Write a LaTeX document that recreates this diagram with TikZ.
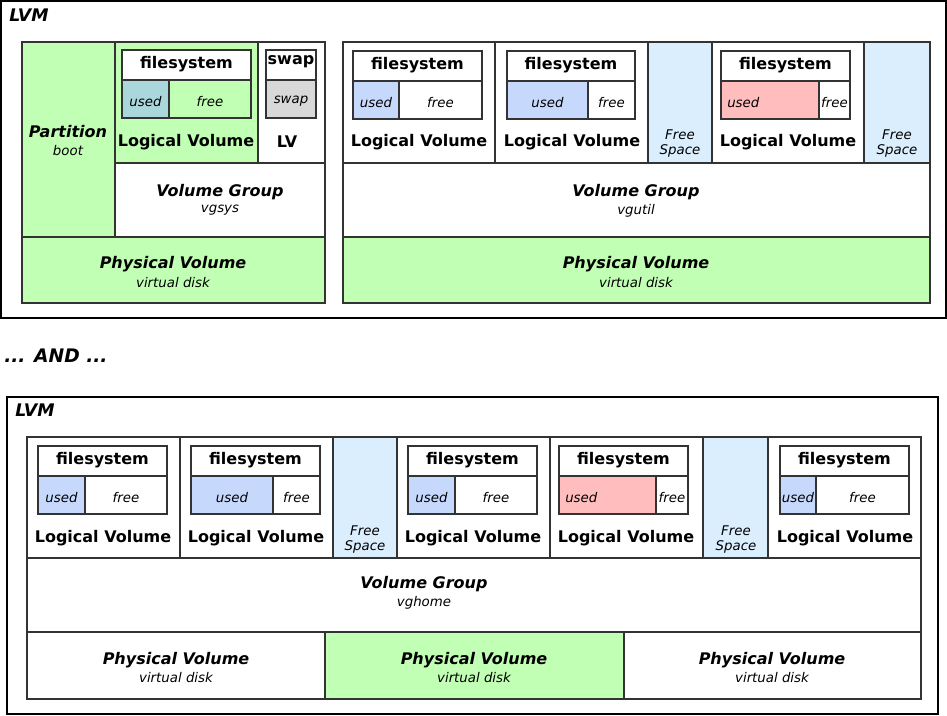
\documentclass[tikz,border=0pt]{standalone}
\usepackage{fontspec}
\setmainfont{DejaVu Sans}
\definecolor{pvgreen}{RGB}{193,255,180}
\definecolor{tealused}{RGB}{170,215,220}
\definecolor{blueused}{RGB}{198,217,253}
\definecolor{freeblue}{RGB}{219,238,254}
\definecolor{redused}{RGB}{255,189,189}
\definecolor{swapgrey}{RGB}{216,216,216}
\definecolor{edge}{RGB}{51,51,51}
\tikzset{
  box/.style={draw=edge, line width=0.8pt},
  outer/.style={draw=black, line width=0.8pt},
  lbl/.style={font=\bfseries\fontsize{12}{14}\selectfont, inner sep=0pt, yshift=-1.5pt},
  ttl/.style={font=\bfseries\itshape\fontsize{12}{14}\selectfont, inner sep=0pt, yshift=-1.5pt},
  sub/.style={font=\itshape\fontsize{10}{12}\selectfont, inner sep=0pt, yshift=-1pt},
  big/.style={font=\bfseries\itshape\fontsize{13}{15}\selectfont, inner sep=0pt, anchor=west},
}
% #1 name, #2 xleft, #3 ytop, #4 xright, #5 split x, #6 used colour, #7 free colour
\newcommand\fsbox[7]{%
  \draw[box, fill=white] (#2,#3) rectangle (#4,#3+30);
  \draw[box, fill=#6] (#2,#3+30) rectangle (#5,#3+68);
  \draw[box, fill=#7] (#5,#3+30) rectangle (#4,#3+68);
  \node[lbl] (#1fs) at ({(#2+#4)/2},#3+12) {filesystem};
  \node[sub] (#1used) at ({(#2+#5)/2},#3+50) {used};
  \node[sub] (#1free) at ({(#5+#4)/2},#3+50) {free};
}
\newcommand\fsboxL[7]{%
  \draw[box, fill=white] (#2,#3) rectangle (#4,#3+30);
  \draw[box, fill=#6] (#2,#3+30) rectangle (#5,#3+68);
  \draw[box, fill=#7] (#5,#3+30) rectangle (#4,#3+68);
  \node[lbl] (#1fs) at ({(#2+#4)/2},#3+12) {filesystem};
  \node[sub, anchor=west] (#1used) at (#2+6,#3+50) {used};
  \node[sub] (#1free) at ({(#5+#4)/2},#3+50) {free};
}
\begin{document}
\begin{tikzpicture}[x=0.75pt,y=-0.75pt]
\useasboundingbox[fill=white] (0,0) rectangle (947,715);

% ===== top LVM =====
\draw[outer] (1,1) rectangle (946,318);
\node[big] (lvmA) at (9,15) {LVM};

% left group
\draw[box, fill=pvgreen] (22,42) rectangle (115,237);
\node[ttl] (part) at (68,130) {Partition};
\node[sub] (boot) at (68,149) {boot};
\draw[box, fill=pvgreen] (115,42) rectangle (258,163);
\fsbox{a1}{122}{50}{251}{169}{tealused}{pvgreen}
\node[lbl] (a1lv) at (186,140) {Logical Volume};
\draw[box, fill=white] (258,42) rectangle (325,163);
\draw[box, fill=white] (266,50) rectangle (316,80);
\draw[box, fill=swapgrey] (266,80) rectangle (316,118);
\node[lbl] (swapt) at (291,60) {swap};
\node[sub] (swapb) at (291,100) {swap};
\node[lbl] (lvs) at (287,140) {LV};
\draw[box, fill=white] (115,163) rectangle (325,237);
\node[ttl] (vgA) at (220,190) {Volume Group};
\node[sub] (vgAs) at (220,209) {vgsys};
\draw[box, fill=pvgreen] (22,237) rectangle (325,303);
\node[ttl] (pvA) at (173,262) {Physical Volume};
\node[sub] (pvAs) at (173,281) {virtual disk};

% right group
\draw[box, fill=white] (343,42) rectangle (495,163);
\fsbox{b1}{353}{51}{482}{399}{blueused}{white}
\node[lbl] (b1lv) at (419,140) {Logical Volume};
\draw[box, fill=white] (495,42) rectangle (648,163);
\fsbox{b2}{507}{51}{635}{588}{blueused}{white}
\node[lbl] (b2lv) at (572,140) {Logical Volume};
\draw[box, fill=freeblue] (648,42) rectangle (712,163);
\node[sub] (bfa) at (680,133) {Free};
\node[sub] (bfb) at (680,150) {Space};
\draw[box, fill=white] (712,42) rectangle (864,163);
\fsboxL{b3}{721}{51}{850}{819}{redused}{white}
\node[lbl] (b3lv) at (788,140) {Logical Volume};
\draw[box, fill=freeblue] (864,42) rectangle (930,163);
\node[sub] (bfc) at (897,133) {Free};
\node[sub] (bfd) at (897,150) {Space};
\draw[box, fill=white] (343,163) rectangle (930,237);
\node[ttl] (vgB) at (636,190) {Volume Group};
\node[sub] (vgBs) at (636,209) {vgutil};
\draw[box, fill=pvgreen] (343,237) rectangle (930,303);
\node[ttl] (pvB) at (636,262) {Physical Volume};
\node[sub] (pvBs) at (636,281) {virtual disk};

% ===== AND =====
\node[big, font=\bfseries\itshape\fontsize{14}{16}\selectfont] (and) at (4,356) {... AND ...};

% ===== bottom LVM =====
\draw[outer] (7,397) rectangle (938,714);
\node[big] (lvmB) at (15,410) {LVM};

\draw[box, fill=white] (27,437) rectangle (180,558);
\fsbox{c1}{38}{446}{167}{85}{blueused}{white}
\node[lbl] (c1lv) at (103,536) {Logical Volume};
\draw[box, fill=white] (180,437) rectangle (333,558);
\fsbox{c2}{191}{446}{320}{273}{blueused}{white}
\node[lbl] (c2lv) at (256,536) {Logical Volume};
\draw[box, fill=freeblue] (333,437) rectangle (397,558);
\node[sub] (cfa) at (365,529) {Free};
\node[sub] (cfb) at (365,546) {Space};
\draw[box, fill=white] (397,437) rectangle (550,558);
\fsbox{c3}{408}{446}{537}{455}{blueused}{white}
\node[lbl] (c3lv) at (473,536) {Logical Volume};
\draw[box, fill=white] (550,437) rectangle (703,558);
\fsboxL{c4}{559}{446}{688}{656}{redused}{white}
\node[lbl] (c4lv) at (626,536) {Logical Volume};
\draw[box, fill=freeblue] (703,437) rectangle (768,558);
\node[sub] (cfc) at (736,529) {Free};
\node[sub] (cfd) at (736,546) {Space};
\draw[box, fill=white] (768,437) rectangle (921,558);
\fsbox{c5}{780}{446}{909}{816}{blueused}{white}
\node[lbl] (c5lv) at (845,536) {Logical Volume};
\draw[box, fill=white] (27,558) rectangle (921,632);
\node[ttl] (vgC) at (424,582) {Volume Group};
\node[sub] (vgCs) at (424,601) {vghome};
\draw[box, fill=white] (27,632) rectangle (325,699);
\node[ttl] (pvC1) at (176,658) {Physical Volume};
\node[sub] (pvC1s) at (176,676) {virtual disk};
\draw[box, fill=pvgreen] (325,632) rectangle (624,699);
\node[ttl] (pvC2) at (474,658) {Physical Volume};
\node[sub] (pvC2s) at (474,676) {virtual disk};
\draw[box, fill=white] (624,632) rectangle (921,699);
\node[ttl] (pvC3) at (772,658) {Physical Volume};
\node[sub] (pvC3s) at (772,676) {virtual disk};
\end{tikzpicture}
\end{document}
